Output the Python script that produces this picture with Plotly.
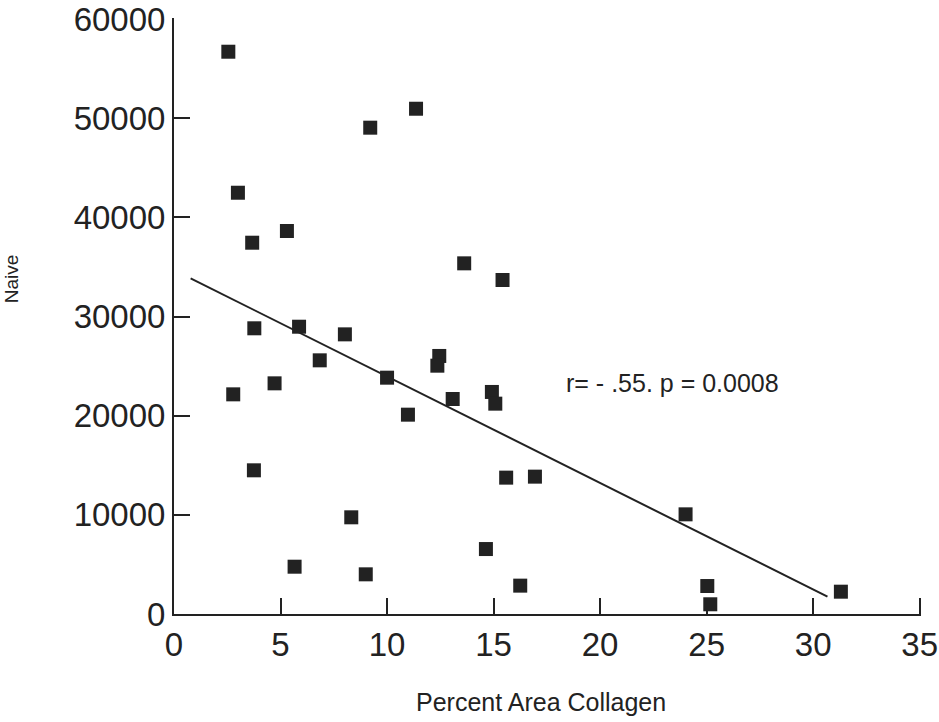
import plotly.graph_objects as go

# Data
collagen_pct = [2.55, 11.36, 9.21, 3.0, 5.30, 3.67, 13.62, 15.42, 3.77, 5.87, 8.02,
                6.84, 4.72, 2.78, 10.0, 12.45, 12.36, 10.98, 13.08, 14.92, 15.08,
                3.75, 15.59, 16.94, 8.32, 14.64, 5.66, 9.0, 16.25, 24.01, 25.03,
                25.17, 31.3]
naive = [56700, 50950, 49040, 42480, 38620, 37440, 35360, 33680, 28810, 28970, 28200,
         25580, 23260, 22150, 23830, 26020, 25040, 20100, 21680, 22390, 21210,
         14490, 13750, 13850, 9750, 6550, 4770, 4000, 2860, 10050, 2820,
         980, 2250]
fit_x = [0.78, 30.67]
fit_y = [33850, 1750]
x_ticks = [0, 5, 10, 15, 20, 25, 30, 35]
y_ticks = [0, 10000, 20000, 30000, 40000, 50000, 60000]
stat_text = "r= - .55. p = 0.0008"

INK = "#222222"
FONT = "Liberation Sans, Arial, Helvetica, sans-serif"

fig = go.Figure()
fig.add_trace(go.Scatter(x=fit_x, y=fit_y, mode="lines",
                         line=dict(color=INK, width=2), showlegend=False,
                         hoverinfo="skip"))
fig.add_trace(go.Scatter(x=collagen_pct, y=naive, mode="markers",
                         marker=dict(symbol="square", size=14, color=INK,
                                     line=dict(width=0)),
                         showlegend=False))

fig.add_annotation(x=18.3, y=23300, xref="x", yref="y", text=stat_text,
                   showarrow=False, xanchor="left", yanchor="middle",
                   font=dict(family=FONT, size=25, color=INK))
fig.add_annotation(x=(541 - 174) / 746, y=(614 - 702) / 595, xref="paper", yref="paper",
                   text="Percent Area Collagen", showarrow=False,
                   xanchor="center", yanchor="middle",
                   font=dict(family=FONT, size=25, color=INK))
fig.add_annotation(x=(12 - 174) / 746, y=(614 - 279) / 595, xref="paper", yref="paper",
                   text="Naive", showarrow=False, textangle=-90,
                   xanchor="center", yanchor="middle",
                   font=dict(family=FONT, size=19, color=INK))

axis_common = dict(showgrid=False, zeroline=False, showline=True, linecolor=INK,
                   linewidth=2, ticks="inside", ticklen=16, tickwidth=2,
                   tickcolor=INK, tickfont=dict(family=FONT, size=33, color=INK),
                   mirror=False, automargin=False)

# ranges padded by a hair so the end ticks (35, 60000) are still drawn
fig.update_xaxes(range=[0, 35.06], tickvals=x_ticks, ticktext=[str(v) for v in x_ticks],
                 **axis_common)
fig.update_yaxes(range=[0, 60100], tickvals=y_ticks, ticktext=[str(v) for v in y_ticks],
                 **axis_common)

fig.update_layout(width=939, height=722, margin=dict(l=174, r=18, t=18, b=108),
                  plot_bgcolor="white", paper_bgcolor="white",
                  font=dict(family=FONT, color=INK))

fig.write_html("out.html", config={"displayModeBar": False},
               post_script="document.body.style.margin='0px';document.body.style.overflow='hidden';")
